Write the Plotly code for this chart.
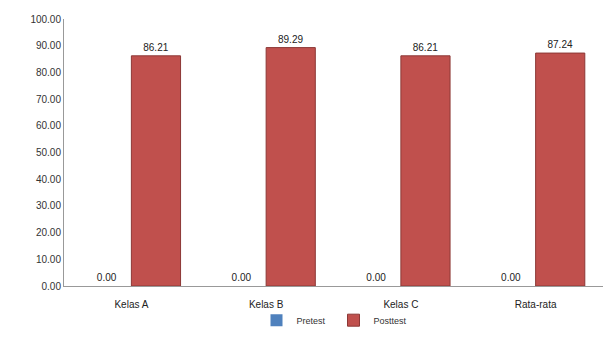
import plotly.graph_objects as go

categories = ["Kelas A", "Kelas B", "Kelas C", "Rata-rata"]
pretest = [0.00, 0.00, 0.00, 0.00]
posttest = [86.21, 89.29, 86.21, 87.24]

fig = go.Figure()
fig.add_trace(go.Bar(
    x=categories, y=pretest, name="Pretest",
    marker=dict(color="#4F81BD", line=dict(color="#4F81BD", width=0)),
    texttemplate="%{y:.2f}", textposition="outside",
    textfont=dict(size=10, color="#222"), cliponaxis=False,
))
fig.add_trace(go.Bar(
    x=categories, y=posttest, name="Posttest",
    marker=dict(color="#C0504D", line=dict(color="#8C3836", width=1)),
    texttemplate="%{y:.2f}", textposition="outside",
    textfont=dict(size=10, color="#222"), cliponaxis=False,
))

fig.update_layout(
    width=613, height=345,
    margin=dict(l=64, r=10, t=19, b=56),
    paper_bgcolor="white", plot_bgcolor="white",
    barmode="group", bargap=0.27, bargroupgap=0,
    font=dict(family="Liberation Sans, Arial, sans-serif", size=10, color="#333"),
    showlegend=True,
    legend=dict(orientation="h", x=0.5, xanchor="center", y=-0.128, yanchor="middle",
                bgcolor="rgba(0,0,0,0)",
                font=dict(size=9, color="#333"), itemwidth=30, traceorder="normal",
                entrywidth=32, entrywidthmode="pixels"),
    xaxis=dict(showline=True, linecolor="#999", linewidth=1, ticks="outside",
               ticklen=9, tickcolor="rgba(0,0,0,0)",
               tickfont=dict(size=10, color="#222", family="Liberation Sans, Arial"),
               showgrid=False),
    yaxis=dict(range=[0, 100], dtick=10, tickformat=".2f", showline=True,
               linecolor="#999", linewidth=1, showgrid=False, ticks="",
               tickfont=dict(size=10, color="#333"), zeroline=False),
)

fig.write_html("out.html")
